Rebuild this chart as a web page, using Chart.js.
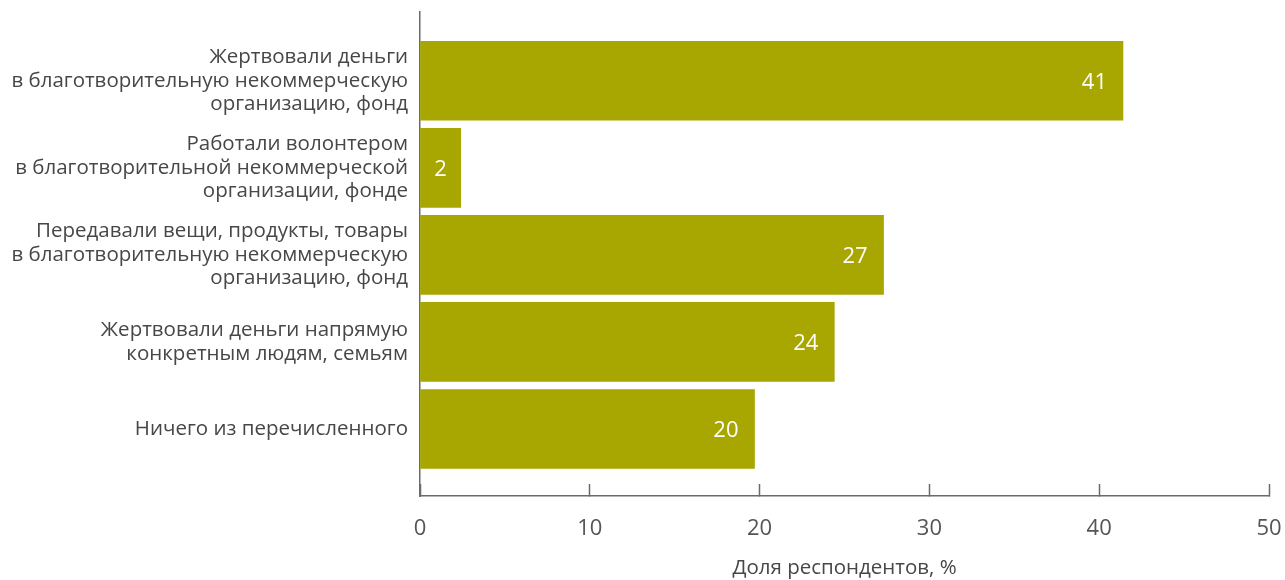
<!DOCTYPE html>
<html>
<head>
<meta charset="utf-8">
<script src="https://cdn.jsdelivr.net/npm/chart.js@4/dist/chart.umd.min.js"></script>
<style>
  html, body { margin: 0; padding: 0; background: #fff; }
  #wrap { width: 1285px; height: 580px; }
</style>
</head>
<body>
<div id="wrap"><canvas id="myChart" width="1285" height="580"></canvas></div>
<script>
const categories = [
  ["Жертвовали деньги", "в благотворительную некоммерческую", "организацию, фонд"],
  ["Работали волонтером", "в благотворительной некоммерческой", "организации, фонде"],
  ["Передавали вещи, продукты, товары", "в благотворительную некоммерческую", "организацию, фонд"],
  ["Жертвовали деньги напрямую", "конкретным людям, семьям"],
  ["Ничего из перечисленного"],
];
const values = [41.4, 2.4, 27.3, 24.4, 19.7];
const xTicks = [0, 10, 20, 30, 40, 50];
const xTitle = "Доля респондентов, %";

const FONT = "'Open Sans', sans-serif";
const barColor = "#a8a600";
const axisColor = "#6b6b6b";
const textColor = "#474747";

// white numbers inside the bars (small bars get the number centred)
const valueLabels = {
  id: "valueLabels",
  afterDatasetsDraw(chart) {
    const ctx = chart.ctx;
    const meta = chart.getDatasetMeta(0);
    ctx.save();
    ctx.fillStyle = "#ffffff";
    ctx.font = "22px " + FONT;
    ctx.textBaseline = "middle";
    meta.data.forEach((bar, i) => {
      const text = String(Math.round(values[i]));
      const w = bar.x - bar.base;
      if (w < 60) {
        ctx.textAlign = "center";
        ctx.fillText(text, (bar.x + bar.base) / 2, bar.y + 2);
      } else {
        ctx.textAlign = "right";
        ctx.fillText(text, bar.x - 16, bar.y + 2);
      }
    });
    ctx.restore();
  },
};

const element = document.getElementById("myChart");
const chart = new Chart(element, {
  type: "bar",
  data: {
    datasets: [
      {
        data: values.map((v, i) => ({ x: v, y: i })),
        backgroundColor: barColor,
        barThickness: 79,
      },
    ],
  },
  options: {
    indexAxis: "y",
    responsive: false,
    animation: false,
    layout: { padding: { top: 12, right: 16, left: 0, bottom: 0 } },
    plugins: {
      legend: { display: false },
      tooltip: { enabled: false },
    },
    scales: {
      x: {
        type: "linear",
        min: 0,
        max: 50,
        afterBuildTicks: (scale) => {
          scale.ticks = xTicks.map((v) => ({ value: v }));
        },
        afterFit: (scale) => {
          scale.height = 84;
          scale.paddingLeft = 0;
          scale.paddingRight = 0;
        },
        grid: {
          drawOnChartArea: false,
          tickLength: -12,
          tickColor: axisColor,
          tickWidth: 1.5,
        },
        border: { color: axisColor, width: 1.5 },
        ticks: {
          color: "#555555",
          font: { family: FONT, size: 22 },
          padding: 32,
        },
        title: {
          display: true,
          text: xTitle,
          color: textColor,
          font: { family: FONT, size: 20.5 },
          padding: { top: 0, bottom: 0 },
        },
      },
      y: {
        type: "linear",
        reverse: true,
        offset: false,
        min: -0.79,
        max: 4.77,
        afterBuildTicks: (scale) => {
          scale.ticks = categories.map((c, i) => ({ value: i }));
        },
        afterFit: (scale) => {
          scale.width = 420;
          scale.paddingTop = 0;
          scale.paddingBottom = 0;
        },
        grid: { drawOnChartArea: false, drawTicks: false, offset: false },
        border: { color: axisColor, width: 1.5 },
        ticks: {
          color: textColor,
          font: { family: FONT, size: 20.5, lineHeight: 1.15 },
          padding: 12,
          callback: (v) => categories[v],
        },
      },
    },
  },
  plugins: [valueLabels],
});
</script>
</body>
</html>
